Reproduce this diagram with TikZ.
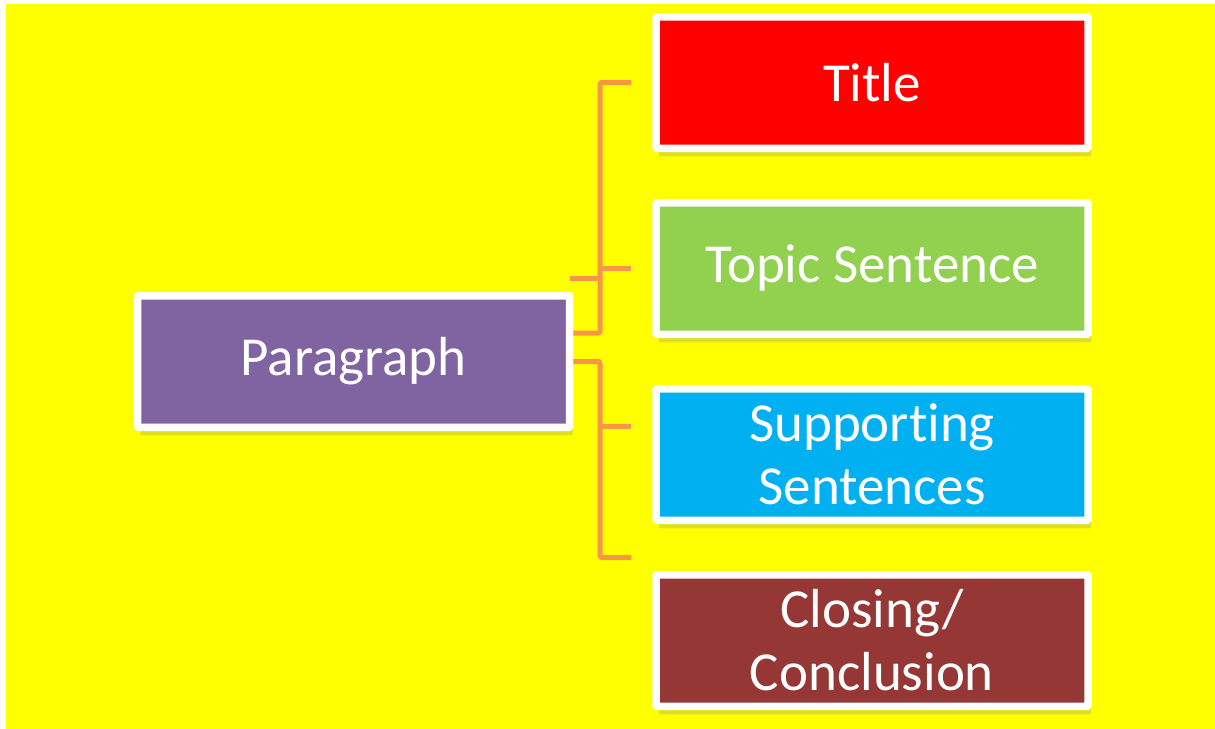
\documentclass[tikz,border=0pt]{standalone}
\usepackage{fontspec}
\setmainfont[Ligatures={NoCommon, NoDiscretionary}, Contextuals=NoAlternate, RawFeature={-liga;-calt;-clig}]{Carlito}
\usetikzlibrary{positioning, shadows}

\definecolor{bgyellow}{HTML}{FFFF00}
\definecolor{linkorange}{HTML}{F79646}
\definecolor{titlered}{HTML}{FF0000}
\definecolor{topicgreen}{HTML}{92D050}
\definecolor{supportblue}{HTML}{00B0F0}
\definecolor{closebrown}{HTML}{953735}
\definecolor{parapurple}{HTML}{8064A2}

\begin{document}
\begin{tikzpicture}[x=1pt, y=-1pt,
  box/.style={draw=white, line width=7.5pt, rounded corners=1pt,
    minimum width=432pt, minimum height=131.5pt, inner sep=0pt,
    text=white, align=center, font=\fontsize{55}{63}\selectfont,
    drop shadow={opacity=0.25, shadow xshift=3pt, shadow yshift=-8pt}},
  link/.style={draw=linkorange, line width=5pt, rounded corners=2pt}]

  % Background
  \useasboundingbox (0,0) rectangle (1215,728);
  \fill[white] (0,0) rectangle (1215,728);
  \fill[bgyellow] (6,4) rectangle (1217,730);

  % Boxes
  \node[box, fill=parapurple] (para) at (353.5,361.5) {Paragraph};
  \node[box, fill=titlered] (title) at (872,82.5) {Title};
  \node[box, fill=topicgreen, below=47pt of title] (topic) {Topic Sentence};
  \node[box, fill=supportblue, below=47pt of topic] (support) {Suppor{}ting\\Sentences};
  \node[box, fill=closebrown, below=47pt of support] (closing) {Closing/\\Conclusion};

  % Upper bracket
  \coordinate (spineup) at (600,333);
  \coordinate (spur) at (570,278);
  \draw[link] ([yshift=28.5pt]para.east) -- (spineup)
    -- (spineup |- title.west) -- ([xshift=-21pt]title.west);
  \draw[link] (spineup |- topic.west) -- ([xshift=-21pt]topic.west);
  \draw[link] (spur) -- (spur -| spineup);

  % Lower bracket
  \coordinate (closeend) at ([xshift=-21pt, yshift=83pt]closing.west);
  \coordinate (supportend) at ([xshift=-21pt, yshift=28pt]support.west);
  \draw[link] (para.east) -- (para.east -| spineup)
    -- (closeend -| spineup) -- (closeend);
  \draw[link] (supportend -| spineup) -- (supportend);

\end{tikzpicture}
\end{document}
